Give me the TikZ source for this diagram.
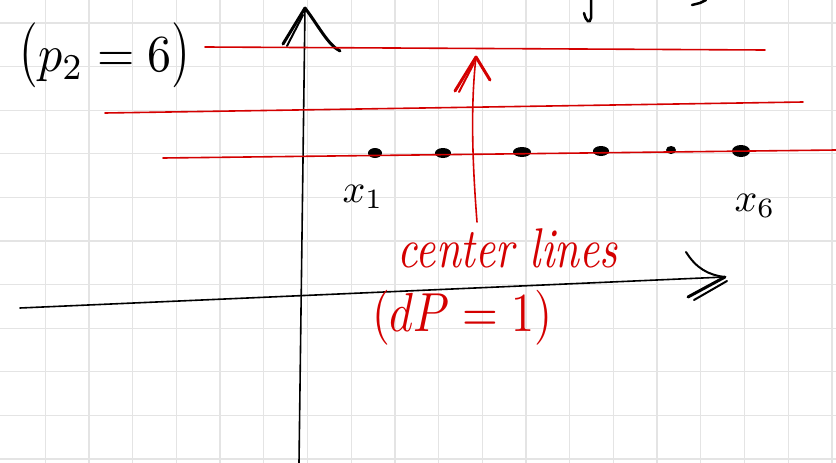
\documentclass[tikz,border=0pt]{standalone}
\usepackage{graphicx}
\usetikzlibrary{shapes.geometric}
\definecolor{penred}{RGB}{212,0,0}
\definecolor{gridgray}{RGB}{228,228,228}
\begin{document}
\begin{tikzpicture}[x=1pt,y=-1pt,
  gridline/.style={draw=gridgray,line width=1.3pt},
  axis/.style={draw=black,line width=1.6pt,line cap=round},
  tipstroke/.style={draw=black,line width=3pt,line cap=round,line join=round},
  centerline/.style={draw=penred,line width=1.6pt,line cap=round},
  redtip/.style={draw=penred,line width=3pt,line cap=round,line join=round},
  pentext/.style={inner sep=0pt,outer sep=0pt},
  dotmark/.style={ellipse,fill=black,inner sep=0pt}]
\useasboundingbox (0,0) rectangle (836,463);
\fill[white] (0,0) rectangle (836,463);
\foreach \i in {0,...,18} \draw[gridline] ({45.3+43.7*\i},0) -- ({45.3+43.7*\i},463);
\foreach \j in {0,...,10} \draw[gridline] (0,{23+43.6*\j}) -- (836,{23+43.6*\j});
% axes
\coordinate (ybot) at (299,463);
\coordinate (ytop) at (305,8);
\coordinate (xleft) at (20,308);
\coordinate (xright) at (725,277);
\draw[axis] (ybot) -- (ytop);
\draw[axis] (xleft) -- (xright);
\coordinate (yl) at (283,44);
\coordinate (yr) at (340,51);
\draw[tipstroke] (yl) -- (ytop);
\draw[tipstroke,line width=2pt] (287,46) -- (303,15);
\draw[tipstroke] (ytop) .. controls (318,25) and (328,45) .. (yr);
\coordinate (xu) at (686,252);
\coordinate (xd) at (688,297);
\draw[tipstroke,line width=2pt] (xu) .. controls (696,268) and (708,275) .. (xright);
\draw[tipstroke] (xd) -- (xright);
\draw[tipstroke,line width=2pt] (694,300) -- (727,281);
% dots
\node[dotmark,minimum width=14pt,minimum height=10pt] (d1) at (375,153) {};
\node[dotmark,minimum width=16pt,minimum height=10pt] (d2) at (443,153) {};
\node[dotmark,minimum width=18pt,minimum height=10pt] (d3) at (522,152) {};
\node[dotmark,minimum width=16pt,minimum height=10pt] (d4) at (601,151) {};
\node[dotmark,minimum width=10pt,minimum height=8pt] (d5) at (671,150) {};
\node[dotmark,minimum width=18pt,minimum height=12pt] (d6) at (741,151) {};
% red centre lines
\coordinate (r1a) at (205,47); \coordinate (r1b) at (765,50);
\coordinate (r2a) at (105,113); \coordinate (r2b) at (803,102);
\coordinate (r3a) at (163,158); \coordinate (r3b) at (836,150);
\draw[centerline] (r1a) -- (r1b);
\draw[centerline] (r2a) -- (r2b);
\draw[centerline] (r3a) -- (r3b);
% red arrow
\coordinate (cltail) at (477,222);
\coordinate (cltip) at (476,57);
\draw[centerline] (cltail) .. controls (473,170) and (470,110) .. (cltip);
\draw[redtip] (455,91) -- (cltip) -- (490,80);
\draw[redtip,line width=2pt] (459,92) -- (474,63);
% cut-off strokes at the top
\draw[black,line width=2.5pt,line cap=round] (591,0) -- (591,18) .. controls (590,24) and (586,22) .. (584,13);
\draw[black,line width=2.5pt,line cap=round] (692,5) -- (700,3) -- (706,0);
% texts
\node[pentext] (p2) at (105,55) {\scalebox{4.8}[5.2]{$\scalebox{1}[1.25]{(}p_2 = 6\scalebox{1}[1.25]{)}$}};
\node[pentext] (x1) at (363,197) {\scalebox{4}{$x_1$}};
\node[pentext] (x6) at (755,206) {\scalebox{4}{$x_6$}};
\node[pentext,text=penred] (cl) at (508,248) {\scalebox{4.4}[5.6]{\textit{center lines}}};
\node[pentext,text=penred] (dp) at (462,318) {\scalebox{4.6}[5.5]{$(dP = 1)$}};
\end{tikzpicture}
\end{document}
